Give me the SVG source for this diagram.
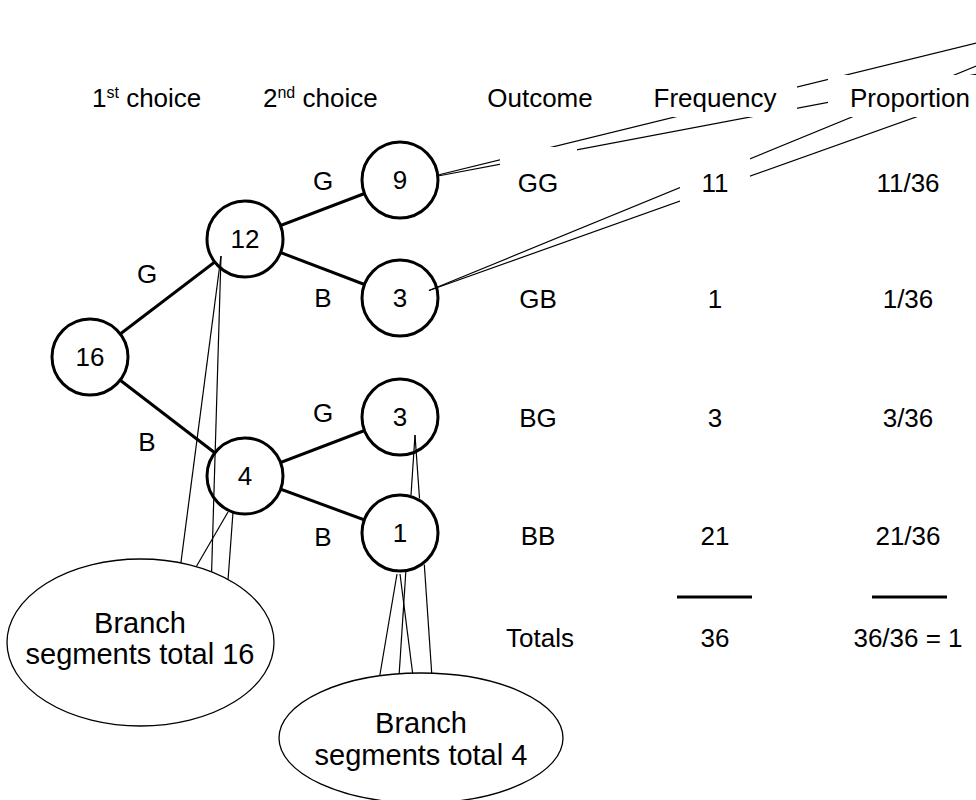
<svg xmlns="http://www.w3.org/2000/svg" width="976" height="800" viewBox="0 0 976 800">
<style>
  text { font-family: "Liberation Sans", Arial, sans-serif; fill: #000; }
  .t { font-size: 26px; text-anchor: middle; }
  .big { font-size: 29px; text-anchor: middle; }
  .node circle { fill: #fff; stroke: #000; stroke-width: 3; }
  .edge { stroke: #000; stroke-width: 3; fill: none; }
  .call { stroke: #000; stroke-width: 1.2; fill: none; }
  .bubble { fill: #fff; stroke: #000; stroke-width: 1.3; }
  .mask { fill: #fff; stroke: none; }
  .rule { stroke: #000; stroke-width: 3; }
</style>

<g id="headers">
  <text x="92" y="107" font-size="26">1<tspan font-size="16" dy="-9">st</tspan><tspan dy="9"> choice</tspan></text>
  <text x="263" y="107" font-size="26">2<tspan font-size="16" dy="-9">nd</tspan><tspan dy="9"> choice</tspan></text>
  <text class="t" x="540" y="107">Outcome</text>
</g>

<g id="connectors">
  <line class="edge" x1="90" y1="357" x2="245" y2="239"/>
  <line class="edge" x1="90" y1="357" x2="245" y2="476"/>
  <line class="edge" x1="245" y1="239" x2="400" y2="180"/>
  <line class="edge" x1="245" y1="239" x2="400" y2="298"/>
  <line class="edge" x1="245" y1="476" x2="400" y2="417"/>
  <line class="edge" x1="245" y1="476" x2="400" y2="533"/>
  <text class="t" x="147" y="283">G</text>
  <text class="t" x="147" y="451">B</text>
  <text class="t" x="323" y="190">G</text>
  <text class="t" x="323" y="307">B</text>
  <text class="t" x="323" y="422">G</text>
  <text class="t" x="323" y="546">B</text>
</g>

<g id="node-16" class="node"><circle cx="90" cy="357" r="38"/><text class="t" x="90" y="366">16</text></g>
<g id="node-12" class="node"><circle cx="245" cy="239" r="38"/><text class="t" x="245" y="248">12</text></g>
<g id="node-9" class="node"><circle cx="400" cy="180" r="38"/><text class="t" x="400" y="189">9</text></g>
<g id="node-3a" class="node"><circle cx="400" cy="298" r="38"/><text class="t" x="400" y="307">3</text></g>
<g id="node-4" class="node"><circle cx="245" cy="476" r="38"/><text class="t" x="245" y="485">4</text></g>
<g id="node-3b" class="node"><circle cx="400" cy="417" r="38"/><text class="t" x="400" y="426">3</text></g>
<g id="node-1" class="node"><circle cx="400" cy="533" r="38"/><text class="t" x="400" y="542">1</text></g>

<g id="callout-lines">
  <line class="call" x1="438" y1="175" x2="1000" y2="37.3"/>
  <line class="call" x1="438" y1="176" x2="1000" y2="69.8"/>
  <line class="call" x1="429" y1="290.5" x2="1000" y2="56.3"/>
  <line class="call" x1="429" y1="290.5" x2="1000" y2="87.1"/>
  <line class="call" x1="221" y1="256" x2="178" y2="585"/>
  <line class="call" x1="221" y1="256" x2="211" y2="592"/>
  <line class="call" x1="228" y1="512" x2="185" y2="586"/>
  <line class="call" x1="233" y1="512" x2="227" y2="594"/>
  <line class="call" x1="397" y1="574" x2="377" y2="692"/>
  <line class="call" x1="400" y1="574" x2="415" y2="692"/>
  <line class="call" x1="415" y1="435" x2="411" y2="495"/>
  <line class="call" x1="405.8" y1="572" x2="398" y2="692"/>
  <line class="call" x1="415" y1="435" x2="419.5" y2="498.5"/>
  <line class="call" x1="424.3" y1="564.5" x2="433" y2="692"/>
</g>

<g id="bubble-16">
  <ellipse class="bubble" cx="140.5" cy="642.5" rx="133.5" ry="83.5"/>
  <text class="big" x="140" y="633">Branch</text>
  <text class="big" x="140" y="664">segments total 16</text>
</g>
<g id="bubble-4">
  <ellipse class="bubble" cx="421" cy="738" rx="142" ry="65"/>
  <text class="big" x="421" y="733">Branch</text>
  <text class="big" x="421" y="765">segments total 4</text>
</g>

<g id="table">
  <rect class="mask" x="634" y="75" width="163" height="42"/>
  <text class="t" x="715" y="107">Frequency</text>
  <rect class="mask" x="828" y="75" width="160" height="42"/>
  <text class="t" x="910" y="107">Proportion</text>

  <rect class="mask" x="500" y="147" width="77" height="72"/>
  <text class="t" x="538" y="192">GG</text>
  <rect class="mask" x="680" y="147" width="70" height="72"/>
  <text class="t" x="715" y="192">11</text>
  <rect class="mask" x="856" y="147" width="104" height="72"/>
  <text class="t" x="908" y="192">11/36</text>

  <text class="t" x="538" y="308">GB</text>
  <text class="t" x="715" y="308">1</text>
  <text class="t" x="908" y="308">1/36</text>

  <text class="t" x="538" y="427">BG</text>
  <text class="t" x="715" y="427">3</text>
  <text class="t" x="908" y="427">3/36</text>

  <text class="t" x="538" y="545">BB</text>
  <text class="t" x="715" y="545">21</text>
  <text class="t" x="908" y="545">21/36</text>

  <line class="rule" x1="677" y1="597" x2="752" y2="597"/>
  <line class="rule" x1="872" y1="597" x2="947" y2="597"/>

  <text class="t" x="540" y="647">Totals</text>
  <text class="t" x="715" y="647">36</text>
  <text class="t" x="908" y="647">36/36 = 1</text>
</g>
</svg>
